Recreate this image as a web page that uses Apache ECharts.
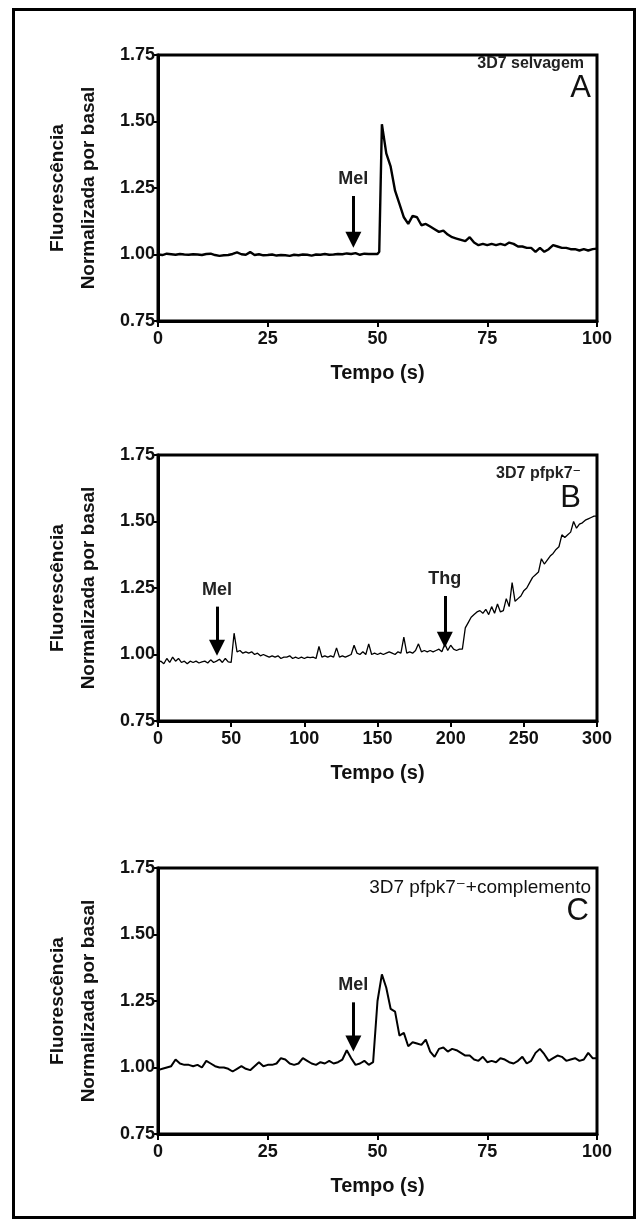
<!DOCTYPE html>
<html lang="pt">
<head>
<meta charset="UTF-8">
<title>Fluorescência</title>
<script src="https://cdn.jsdelivr.net/npm/echarts@6/dist/echarts.min.js"></script>
<style>
  html, body { margin: 0; padding: 0; background: #fff; }
  #chart { width: 643px; height: 1223px; }
</style>
</head>
<body>
<div id="chart"></div>
<script>
// ---- data ----

// painel A: 3D7 selvagem, 0..100 s
var tempoA = [0,1,2,3,4,5,6,7,8,9,10,11,12,13,14,15,16,17,18,19,20,21,22,23,24,25,26,27,28,29,30,31,32,33,34,35,36,37,38,39,40,41,42,43,44,45,46,47,48,49,50,50.4,51,52,53,54,55,56,57,58,59,60,61,62,63,64,65,66,67,68,69,70,71,72,73,74,75,76,77,78,79,80,81,82,83,84,85,86,87,88,89,90,91,92,93,94,95,96,97,98,99,100];
var fluorA = [1.000,0.998,1.003,1.001,0.999,1.002,1.000,0.999,1.001,1.000,0.998,1.002,1.003,0.998,0.995,0.997,0.998,1.002,1.008,1.001,0.999,1.009,0.998,1.001,0.997,0.998,1.000,0.996,0.998,0.997,0.995,0.999,0.997,1.000,0.999,0.996,1.000,0.999,1.002,0.999,1.000,1.002,1.001,1.004,1.002,1.005,0.999,1.003,1.002,1.002,1.002,1.010,1.49,1.38,1.33,1.24,1.19,1.14,1.115,1.145,1.14,1.11,1.115,1.105,1.095,1.085,1.09,1.075,1.065,1.06,1.055,1.05,1.065,1.045,1.035,1.04,1.035,1.04,1.035,1.04,1.035,1.045,1.04,1.03,1.03,1.025,1.025,1.01,1.025,1.01,1.02,1.035,1.03,1.025,1.025,1.02,1.02,1.015,1.02,1.015,1.02,1.022];

// painel B: 3D7 pfpk7-, 0..300 s, amostras a cada 2 s
var passoB = 2;
var fluorB = [0.97,0.975,0.965,0.985,0.97,0.99,0.975,0.985,0.97,0.975,0.965,0.975,0.97,0.975,0.968,0.972,0.975,0.968,0.98,0.97,0.975,0.982,0.97,0.985,0.972,0.97,
  1.08,1.01,1.015,1.005,1.01,1.005,1.01,1.0,1.005,0.995,1.0,0.995,0.99,0.995,0.99,0.995,0.985,0.99,0.99,0.995,0.985,0.99,0.985,0.99,0.985,0.99,0.988,0.99,0.985,
  1.03,0.99,0.995,0.99,0.995,0.99,1.025,0.99,0.995,0.99,0.995,1.0,1.035,1.005,1.0,1.01,1.0,1.04,1.0,1.005,1.0,1.005,1.0,1.005,1.01,1.005,1.0,1.01,1.005,
  1.065,1.005,1.01,1.005,1.015,1.04,1.01,1.015,1.01,1.015,1.01,1.015,1.02,1.01,1.04,1.015,1.035,1.02,1.015,1.02,1.02,
  1.10,1.12,1.14,1.15,1.16,1.165,1.155,1.17,1.15,1.18,1.155,1.19,1.16,1.165,1.21,1.18,1.27,1.2,1.21,1.22,1.24,1.25,1.27,1.29,1.3,1.31,1.36,1.34,1.355,1.37,1.38,1.395,1.405,1.45,1.44,1.45,1.46,1.5,1.475,1.49,1.495,1.505,1.51,1.515,1.52,1.52];

// painel C: 3D7 pfpk7- + complemento, 0..100 s, amostras a cada 1 s
var fluorC = [0.99,0.995,1.0,1.005,1.03,1.015,1.01,1.01,1.005,1.01,1.0,1.025,1.015,1.005,1.0,1.0,0.995,0.985,0.995,1.005,0.995,0.99,1.005,1.02,1.005,1.01,1.01,1.015,1.035,1.03,1.015,1.01,1.015,1.035,1.025,1.015,1.01,1.02,1.015,1.025,1.015,1.02,1.03,1.065,1.035,1.01,1.015,1.025,1.01,1.02,
  1.25,1.35,1.30,1.22,1.21,1.12,1.13,1.08,1.095,1.09,1.085,1.105,1.06,1.04,1.07,1.075,1.06,1.07,1.065,1.055,1.045,1.045,1.03,1.025,1.04,1.02,1.025,1.02,1.035,1.03,1.02,1.015,1.025,1.04,1.015,1.025,1.055,1.07,1.05,1.025,1.035,1.045,1.04,1.025,1.03,1.035,1.025,1.03,1.055,1.035,1.035];

// setas: [tempo, topo, ponta, texto]
var setasA = [[44.5, 1.22, 1.055, 'Mel']];
var setasB = [[40.3, 1.18, 1.025, 'Mel'], [196, 1.22, 1.055, 'Thg']];
var setasC = [[44.5, 1.245, 1.09, 'Mel']];

var font = 'Liberation Sans, Arial, DejaVu Sans, sans-serif';

// layout dos tres paineis
var paineis = [
  { top: 55,  xMax: 100, xStep: 25, lw: 2.4 },
  { top: 455, xMax: 300, xStep: 50, lw: 1.3 },
  { top: 868, xMax: 100, xStep: 25, lw: 2.0 }
];
var gLeft = 158, gWidth = 439, gHeight = 266;

var pares = function(xs, ys) {
  var out = [];
  for (var i = 0; i < ys.length; i++) out.push([xs[i], ys[i]]);
  return out;
};
var tempoB = [], tempoC = [];
for (var i = 0; i < fluorB.length; i++) tempoB.push(i * passoB);
for (var j = 0; j < fluorC.length; j++) tempoC.push(j);

var seriesData = [pares(tempoA, fluorA), pares(tempoB, fluorB), pares(tempoC, fluorC)];
var setas = [setasA, setasB, setasC];

var chart = echarts.init(document.getElementById('chart'), null, { renderer: 'canvas' });

var grids = [], xAxes = [], yAxes = [], series = [];
paineis.forEach(function(p, k) {
  grids.push({ left: gLeft, top: p.top, width: gWidth, height: gHeight,
    show: true, borderColor: '#000', borderWidth: 3, backgroundColor: 'transparent' });
  xAxes.push({
    gridIndex: k, type: 'value', min: 0, max: p.xMax, interval: p.xStep,
    name: 'Tempo (s)', nameLocation: 'middle', nameGap: 42,
    nameTextStyle: { fontFamily: font, fontWeight: 'bold', fontSize: 20, color: '#111' },
    axisLine: { lineStyle: { color: '#000', width: 3 } },
    axisTick: { show: true, length: 6, lineStyle: { color: '#000', width: 2 } },
    axisLabel: { fontFamily: font, fontWeight: 'bold', fontSize: 18, color: '#111', margin: 9 },
    splitLine: { show: false }
  });
  yAxes.push({
    gridIndex: k, type: 'value', min: 0.75, max: 1.75, interval: 0.25,
    name: 'Fluorescência\nNormalizada por basal', nameLocation: 'middle', nameRotate: 90, nameGap: 54,
    nameTextStyle: { fontFamily: font, fontWeight: 'bold', fontSize: 19, color: '#111', lineHeight: 31 },
    axisLine: { lineStyle: { color: '#000', width: 3 } },
    axisTick: { show: true, length: 6, lineStyle: { color: '#000', width: 2 } },
    axisLabel: { fontFamily: font, fontWeight: 'bold', fontSize: 18, color: '#111', margin: 3,
      formatter: function(v) { return v.toFixed(2); } },
    splitLine: { show: false }
  });
  series.push({
    type: 'line', xAxisIndex: k, yAxisIndex: k, data: seriesData[k],
    showSymbol: false, symbol: 'none', animation: false,
    lineStyle: { color: '#000', width: p.lw }, z: 3,
    markLine: {
      silent: true, animation: false, symbol: ['none', 'triangle'], symbolSize: 16,
      lineStyle: { color: '#000', width: 3, type: 'solid' },
      label: { show: true, position: 'start', distance: 8, fontFamily: font, fontWeight: 'bold',
        fontSize: 18, color: '#222', formatter: function(pm) { return pm.name; } },
      data: setas[k].map(function(s) {
        return [{ name: s[3], coord: [s[0], s[1]] }, { coord: [s[0], s[2]] }];
      })
    }
  });
});

var titulos = [
  { text: '3D7 selvagem', right: 59, top: 56, textStyle: { fontFamily: font, fontWeight: 'bold', fontSize: 16, color: '#222' } },
  { text: 'A', right: 52, top: 73, textStyle: { fontFamily: font, fontWeight: 'normal', fontSize: 31, color: '#111' } },
  { text: '3D7 pfpk7\u207b', right: 62, top: 466, textStyle: { fontFamily: font, fontWeight: 'bold', fontSize: 16, color: '#222' } },
  { text: 'B', right: 62, top: 483, textStyle: { fontFamily: font, fontWeight: 'normal', fontSize: 31, color: '#111' } },
  { text: '3D7 pfpk7\u207b+complemento', right: 52, top: 878, textStyle: { fontFamily: font, fontWeight: 'normal', fontSize: 19, color: '#111' } },
  { text: 'C', right: 54, top: 896, textStyle: { fontFamily: font, fontWeight: 'normal', fontSize: 31, color: '#111' } }
];

chart.setOption({
  animation: false,
  backgroundColor: '#fff',
  title: titulos.map(function(t) { t.padding = 0; return t; }),
  grid: grids,
  xAxis: xAxes,
  yAxis: yAxes,
  series: series,
  graphic: [{
    type: 'rect', left: 11, top: 7, silent: true,
    shape: { width: 621, height: 1208 },
    style: { fill: 'none', stroke: '#000', lineWidth: 3 }
  }]
});
</script>
</body>
</html>
